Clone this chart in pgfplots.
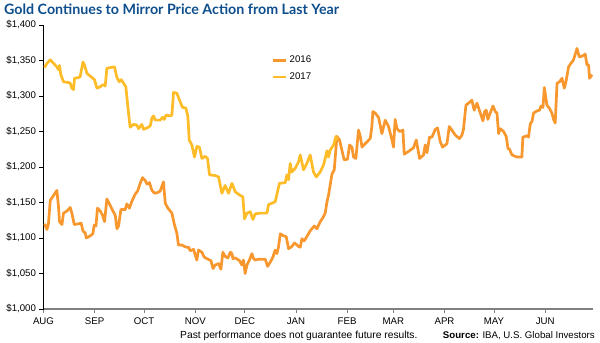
\documentclass[border=0pt]{standalone}
\usepackage{fontspec}
\setmainfont{Liberation Sans}
\newfontfamily\titlefont{Lato}
\usepackage{pgfplots}
\pgfplotsset{compat=1.18}
\definecolor{titleblue}{RGB}{14,78,140}
\definecolor{c2016}{RGB}{247,151,45}
\definecolor{c2017}{RGB}{253,188,40}
\begin{document}
\begin{tikzpicture}
\begin{axis}[
  at={(43.5bp,34bp)}, anchor=south west,
  scale only axis, width=549.5bp, height=284bp,
  xmin=0, xmax=333, ymin=1000, ymax=1400,
  axis lines*=left,
  x axis line style={draw=black!50, line width=1.6bp},
  y axis line style={draw=black, line width=0.9bp},
  xtick={0,31,61,92,122,153,184,212,243,273,304},
  xticklabels={AUG,SEP,OCT,NOV,DEC,JAN,FEB,MAR,APR,MAY,JUN},
  ytick={1000,1050,1100,1150,1200,1250,1300,1350,1400},
  yticklabels={{\$1,000},{\$1,050},{\$1,100},{\$1,150},{\$1,200},{\$1,250},{\$1,300},{\$1,350},{\$1,400}},
  tick align=outside, major tick length=4bp,
  xtick style={draw=black!50, line width=0.8bp},
  ytick style={draw=black, line width=0.8bp},
  ticklabel style={font=\fontsize{9.7}{11}\selectfont},
  x tick label style={yshift=-1.5bp},
  legend style={at={(rel axis cs:0.41,0.905)}, anchor=north west, draw=none, fill=none,
    font=\fontsize{9.7}{11}\selectfont, row sep=4.5bp},
  legend cell align=left,
  legend image code/.code={\draw[#1] (0bp,0bp) -- (13bp,0bp);},
  every axis plot/.append style={line width=2.7bp, line join=round},
]
\addplot[c2016] coordinates {
(0.6,1120)(2.1,1112)(3,1120)(4.1,1153)(6.1,1160)(8.1,1167)(9.1,1144)(9.7,1123)(11.2,1119)(12.1,1135)
(14.2,1138)(16.2,1143)(17.2,1135)(18.6,1119)(21.2,1120)(22.8,1121)(23.9,1110)(25.3,1107)(25.9,1100)(28.3,1103)
(29.9,1106)(30.7,1118)(31.8,1117)(32.7,1142)(34.4,1138)(35.8,1132)(37,1123)(38.4,1155)(40.4,1146)(42.1,1138)
(43.5,1132)(44.5,1113)(45.5,1117)(46.9,1140)(49.5,1140)(50.5,1148)(52.1,1142)(53.6,1152)(55.6,1162)(57,1166)
(58.6,1177)(60,1185)(61.6,1181)(62.7,1176)(64.2,1178)(65.7,1167)(67.3,1163)(69.1,1164)(70.7,1166)(72.7,1179)
(73.8,1149)(75.4,1142)(76.8,1138)(77.8,1135)(79.2,1120)(80.8,1107)(81.8,1090)(83.9,1090)(85.5,1088)(86.9,1087)
(87.9,1087)(88.9,1082)(90.9,1084)(92.9,1069)(93.9,1083)(96,1080)(97.4,1073)(99,1071)(101.5,1068)(102.7,1057)
(104.1,1062)(106.1,1064)(107.5,1056)(108.7,1080)(110.1,1074)(111.8,1072)(113.2,1080)(114.2,1078)(114.8,1071)(116.2,1072)
(118.8,1068)(120.2,1062)(121.2,1069)(122.2,1050)(123.3,1062)(124.8,1069)(126.3,1078)(127.3,1071)(128.3,1069)(130.3,1070)
(134.4,1070)(135.8,1060)(137.4,1066)(139,1073)(140.4,1083)(141.4,1078)(142.4,1087)(143.5,1106)(145.5,1103)(147.1,1102)
(148.5,1085)(150.5,1088)(152.1,1093)(153.2,1091)(154.5,1088)(155.6,1087)(156.6,1099)(158,1096)(159.6,1102)(161.6,1110)
(164.1,1117)(165.7,1113)(167.7,1123)(169.7,1130)(170.7,1135)(171.8,1151)(172.7,1160)(174.8,1190)(176.2,1196)(177.8,1243)
(179.4,1238)(180.8,1224)(182.2,1210)(184.2,1211)(185.5,1231)(186.9,1228)(187.9,1214)(189.3,1212)(190.9,1252)(192,1243)
(193,1228)(195,1233)(198,1240)(199,1257)(199.6,1278)(201,1276)(203,1270)(205.1,1247)(206.1,1257)(207.1,1266)
(209.1,1257)(211.2,1238)(212.1,1228)(213.1,1267)(214.2,1254)(215.8,1250)(217.8,1252)(218.6,1218)(221.2,1222)(224.2,1227)
(225.9,1238)(227.9,1212)(230.3,1217)(231.3,1231)(232.4,1220)(233.9,1242)(235.4,1242)(237.4,1253)(238.8,1255)(240.4,1236)
(241.8,1228)(243.5,1231)(244.5,1233)(245.9,1257)(247.5,1252)(249.5,1245)(252.1,1240)(253.6,1245)(254.5,1253)(256,1287)
(257.6,1290)(259.6,1294)(261,1280)(262.7,1290)(264.7,1276)(266.3,1265)(267.3,1278)(268.3,1280)(269.3,1267)(270.7,1276)
(272.4,1286)(273.8,1278)(274.8,1276)(275.8,1247)(276.8,1254)(278.8,1250)(280.4,1243)(281.5,1226)(282.4,1225)(283.9,1217)
(286.9,1214)(288.5,1214)(289.9,1214)(290.5,1242)(293,1244)(293.9,1242)(295,1261)(296,1264)(297,1276)(299,1279)
(300.6,1280)(301.5,1286)(302.7,1284)(303.5,1312)(305.1,1287)(306.5,1283)(308.1,1276)(309.1,1267)(310.1,1262)(311.2,1318)
(312.7,1320)(314.2,1325)(315.6,1311)(316.6,1320)(318.2,1341)(319.6,1346)(321.2,1351)(323.3,1367)(324.7,1355)(326.3,1356)
(328.3,1359)(329.3,1344)(330.3,1344)(330.9,1325)(332.4,1330)
};
\addlegendentry{2016}
\addplot[c2017] coordinates {
(0.6,1340)(2.1,1346)(4.1,1351)(6.1,1346)(8.1,1341)(9.1,1337)(9.7,1343)(10.5,1330)(12.1,1320)(15.2,1319)
(16.2,1318)(17.2,1311)(18.2,1309)(18.8,1325)(21.2,1326)(22.2,1327)(23.9,1348)(24.8,1344)(26.3,1332)(28.3,1328)
(30.9,1323)(32.4,1311)(34.4,1313)(36,1316)(37.4,1314)(38.4,1339)(40.4,1340)(43,1341)(44.5,1326)(45.9,1320)
(47.1,1323)(48.5,1318)(49.9,1313)(51.2,1283)(52.5,1256)(54.5,1260)(56.6,1259)(57.6,1254)(58.6,1257)(59.6,1260)
(60.6,1253)(63.6,1256)(64.7,1258)(65.7,1269)(66.7,1272)(67.7,1266)(70.7,1266)(72.1,1270)(73.2,1267)(74.2,1273)
(76.8,1272)(77.8,1273)(78.8,1305)(80.8,1304)(82.8,1292)(84.2,1284)(86.3,1283)(87.5,1271)(88.3,1238)(89.9,1231)
(91.5,1214)(93,1229)(94.5,1228)(96,1212)(98,1215)(99.4,1212)(100.6,1189)(104.1,1188)(106.1,1186)(108.1,1163)
(110.1,1174)(112.1,1163)(114.2,1177)(116.2,1165)(119.2,1160)(120.8,1158)(121.8,1127)(123.3,1135)(125.3,1137)(126.9,1126)
(128.3,1134)(131.3,1135)(135.4,1135)(136.4,1147)(140.4,1151)(143,1177)(146.5,1178)(147.5,1189)(148.5,1182)(149.5,1205)
(150.5,1193)(152.5,1198)(154.5,1207)(155.6,1217)(157.6,1196)(159.6,1205)(161.6,1217)(163.6,1193)(165.3,1186)(167.7,1193)
(169.7,1203)(170.7,1212)(171.8,1223)(172.7,1214)(173.8,1224)(175.8,1231)(177.2,1243)(178.2,1238)
};
\addlegendentry{2017}
\end{axis}
\node[anchor=base west, inner sep=0, text=titleblue, font=\titlefont\bfseries\fontsize{14.3}{17}\selectfont] at (4bp,328bp) {Gold Continues to Mirror Price Action from Last Year};
\node[anchor=base west, inner sep=0, font=\fontsize{10.3}{12}\selectfont] at (180bp,5bp) {Past performance does not guarantee future results.};
\node[anchor=base east, inner sep=0, font=\fontsize{9.7}{11}\selectfont] at (595bp,5bp) {\textbf{Source:} IBA, U.S. Global Investors};
\pgfresetboundingbox
\useasboundingbox (0,0) rectangle (600bp,343bp);
\end{tikzpicture}
\end{document}
